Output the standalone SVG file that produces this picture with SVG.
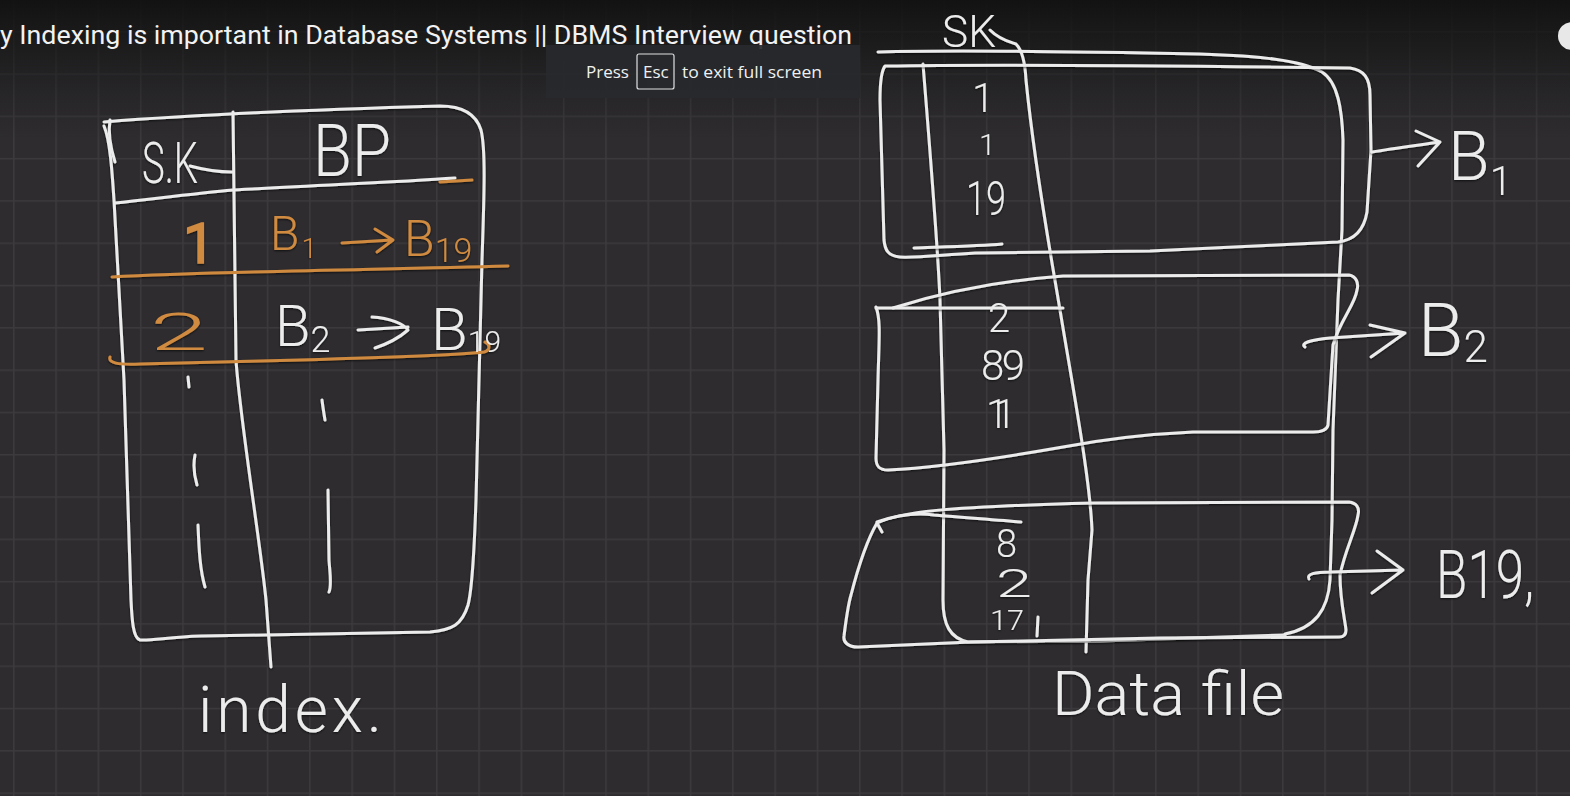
<svg xmlns="http://www.w3.org/2000/svg" width="1570" height="796" viewBox="0 0 1570 796">
  <defs>
    <pattern id="grid" width="42.3" height="42.3" patternUnits="userSpaceOnUse" x="13" y="31">
      <rect width="42.3" height="42.3" fill="#2e2c2f"/>
      <path d="M0.75,0 V42.3 M0,0.75 H42.3" stroke="#3c3a3d" stroke-width="1.5" fill="none"/>
    </pattern>
    <linearGradient id="topShade" x1="0" y1="0" x2="0" y2="1">
      <stop offset="0" stop-color="#111" stop-opacity="0.95"/>
      <stop offset="0.45" stop-color="#151515" stop-opacity="0.55"/>
      <stop offset="1" stop-color="#1a1a1a" stop-opacity="0"/>
    </linearGradient>
    <filter id="shadow" x="-5%" y="-5%" width="110%" height="110%">
      <feDropShadow dx="0" dy="1" stdDeviation="0.8" flood-color="#000" flood-opacity="0.7"/>
    </filter>
    <style>
      .ink { fill: none; stroke: #ececec; stroke-width: 3; stroke-linecap: round; stroke-linejoin: round; }
      .ink-o { fill: none; stroke: #cf8a3f; stroke-width: 3; stroke-linecap: round; stroke-linejoin: round; }
      .hw { font-family: Roboto, "Open Sans", Lato, "Liberation Sans", sans-serif; font-weight: 300; fill: #ececec; }
      .hw-o { font-family: Roboto, "Open Sans", Lato, "Liberation Sans", sans-serif; font-weight: 300; fill: #d08b40; }
      .ui { font-family: "Open Sans", "Noto Sans", "Liberation Sans", sans-serif; fill: #f0f0f0; }
      .title { font-family: Roboto, "Liberation Sans", sans-serif; fill: #f2f2f2; }
    </style>
  </defs>

  <!-- background -->
  <rect x="0" y="0" width="1570" height="796" fill="url(#grid)"/>
  <rect x="0" y="0" width="1570" height="140" fill="url(#topShade)"/>

  <!-- video overlay UI -->
  <g id="title-bar">
    <text x="0" y="44" class="title" font-size="26" textLength="852" lengthAdjust="spacingAndGlyphs">y Indexing is important in Database Systems || DBMS Interview question</text>
  </g>
  <g id="fullscreen-hint">
    <rect x="546" y="45" width="314" height="53" fill="#27292d" fill-opacity="0.92"/>
    <text x="586" y="78" class="ui" font-size="17">Press</text>
    <rect x="637" y="54" width="37" height="35" rx="2" fill="none" stroke="#e0e0e0" stroke-width="1.2"/>
    <text x="643" y="78" class="ui" font-size="17">Esc</text>
    <text x="682" y="78" class="ui" font-size="17" textLength="140" lengthAdjust="spacingAndGlyphs">to exit full screen</text>
  </g>
  <circle id="corner-button" cx="1572" cy="36" r="14" fill="#e8e8e8"/>

  <!-- INDEX TABLE -->
  <g id="index-table" filter="url(#shadow)">
    <path class="ink" d="M104,122 C180,116 300,110 440,106 C462,106 476,114 481,130 C486,150 484,200 482,260 L476,500 C474,560 472,590 468,605 C462,625 452,630 430,632 L200,636 C170,637 150,641 140,640 C133,638 132,620 131,600 L124,380 L114,200 C112,170 110,140 104,126"/>
    <path class="ink" d="M110,120 C108,132 110,146 115,162"/>
    <path class="ink" d="M115,203 C160,198 200,193 233,190 C300,186 400,182 455,178"/>
    <path class="ink-o" d="M440,182 L472,180"/>
    <path class="ink" d="M233,112 L236,360 C240,420 260,540 266,600 L271,667"/>
    <path class="ink" d="M190,166 C205,170 220,172 232,172"/>
    <path class="ink-o" d="M112,277 C200,272 350,270 508,266"/>
    <path class="ink-o" d="M110,357 C108,363 118,365 140,364 L300,360 C400,357 460,355 484,352 C491,350 490,344 485,342"/>
    <path class="ink" d="M188,377 L189,387 M195,455 C193,465 194,475 197,485 M198,525 C199,550 200,570 205,587"/>
    <path class="ink" d="M322,400 C323,408 324,414 325,420 M328,490 L329,560 C330,575 332,585 329,592"/>

    <text class="hw" x="142" y="183" font-size="58" textLength="56" lengthAdjust="spacingAndGlyphs">S.K</text>
    <text class="hw" x="313" y="176" font-size="72" textLength="78" lengthAdjust="spacingAndGlyphs">BP</text>

    <text class="hw-o" x="184" y="262" font-size="54" stroke="#d08b40" stroke-width="3.5">1</text>
    <text class="hw-o" x="270" y="250" font-size="48">B<tspan font-size="28" dx="2" dy="8">1</tspan></text>
    <text class="hw-o" x="404" y="256" font-size="50">B<tspan font-size="34" dy="6">19</tspan></text>

    <text class="hw-o" x="150" y="350" font-size="52" textLength="58" lengthAdjust="spacingAndGlyphs">2</text>
    <text class="hw" x="275" y="346" font-size="58">B<tspan font-size="36" dy="6">2</tspan></text>
    <text class="hw" x="431" y="350" font-size="60">B<tspan font-size="30" dy="2">19</tspan></text>

    <text class="hw" x="198" y="732" font-size="64" textLength="184" lengthAdjust="spacing">index.</text>
  </g>

  <!-- DATA FILE -->
  <g id="data-file" filter="url(#shadow)">
    <path class="ink" d="M878,52 C950,50 1100,52 1200,54 C1260,56 1300,60 1322,72 C1338,82 1342,110 1343,140 L1342,230 L1338,300 L1333,430 L1332,520 L1330,580 C1328,610 1315,628 1285,634"/>
    <path class="ink" d="M923,64 C930,150 938,250 940,300 L944,450 L943,600 C943,625 950,638 968,642 L1100,641 L1285,635"/>
    <path class="ink" d="M990,30 C1000,40 1010,42 1016,44 C1022,50 1025,60 1026,80 C1035,170 1050,250 1060,310 C1075,400 1090,480 1092,530 L1088,580 L1086,652"/>
    <text class="hw" x="942" y="47" font-size="44" textLength="54" lengthAdjust="spacingAndGlyphs">SK</text>
    <text class="hw" x="1052" y="715" font-size="62" textLength="232" lengthAdjust="spacingAndGlyphs">Data file</text>
  </g>

  <g id="block-1" filter="url(#shadow)">
    <path class="ink" d="M885,66 C1000,64 1200,66 1350,68 C1364,70 1370,78 1370,95 L1371,150 L1367,212 C1364,230 1355,240 1338,242 L1150,251 L975,253 C940,255 915,258 900,257 C888,256 885,250 884,240 L880,100 C880,80 882,70 885,66 Z"/>
    <path class="ink" d="M914,248 C940,247 980,246 1002,244"/>
    <text class="hw" x="972" y="112" font-size="40">1</text>
    <text class="hw" x="979" y="155" font-size="30">1</text>
    <text class="hw" x="966" y="215" font-size="48" textLength="40" lengthAdjust="spacingAndGlyphs">19</text>
    <text class="hw" x="1448" y="180" font-size="68">B<tspan font-size="40" dy="15">1</tspan></text>
  </g>

  <g id="block-2" filter="url(#shadow)">
    <path class="ink" d="M893,308 C950,290 1010,280 1063,276 L1349,275 C1356,276 1359,283 1357,290 C1355,305 1340,320 1333,345 L1328,425 C1327,430 1320,432 1313,432 L1193,432 C1150,434 1100,440 1063,447 C1000,458 930,468 888,470 C878,470 876,465 876,458 L878,380 C879,340 881,320 876,307"/>
    <path class="ink" d="M876,308 L1063,308"/>
    <text class="hw" x="988" y="332" font-size="40">2</text>
    <text class="hw" x="981" y="380" font-size="42" textLength="44" lengthAdjust="spacing">89</text>
    <text class="hw" x="986" y="428" font-size="40" textLength="30" lengthAdjust="spacing">11</text>
    <text class="hw" x="1418" y="356" font-size="74">B<tspan font-size="44" dy="6">2</tspan></text>
  </g>

  <g id="block-3" filter="url(#shadow)">
    <path class="ink" d="M877,523 C900,512 940,507 1094,503 L1349,502 C1356,503 1360,507 1358,515 C1356,530 1345,550 1340,575 C1340,600 1345,620 1346,630 C1346,636 1342,637 1339,637 L1160,638 L971,642 L858,647 C848,647 843,642 844,636 C846,620 848,605 851,595 C860,560 870,535 877,523 L882,532"/>
    <path class="ink" d="M877,522 C900,514 920,513 934,515 C970,518 1000,520 1021,522"/>
    <text class="hw" x="996" y="557" font-size="38">8</text>
    <text class="hw" x="996" y="597" font-size="38" textLength="36" lengthAdjust="spacingAndGlyphs">2</text>
    <text class="hw" x="990" y="630" font-size="28" textLength="34" lengthAdjust="spacingAndGlyphs">17</text>
    <path class="ink" d="M1038,617 L1037,636"/>
    <text class="hw" x="1436" y="598" font-size="66" textLength="98" lengthAdjust="spacingAndGlyphs">B19,</text>
  </g>

  <!-- CONNECTORS -->
  <g id="connectors" filter="url(#shadow)">
    <path class="ink-o" d="M342,243 L392,240 M375,229 L393,240 L377,252"/>
    <path class="ink" d="M358,330 L408,327 M372,317 C390,318 404,324 408,330 C400,337 390,343 375,348"/>
    <path class="ink" d="M1372,152 C1395,148 1420,145 1440,142 M1416,131 L1440,142 L1418,166"/>
    <path class="ink" d="M1305,347 C1300,343 1310,340 1330,338 L1405,333 M1370,325 L1405,333 L1371,357"/>
    <path class="ink" d="M1309,579 C1306,574 1315,572 1330,572 L1403,570 M1377,551 L1403,570 L1372,593"/>
  </g>
</svg>
